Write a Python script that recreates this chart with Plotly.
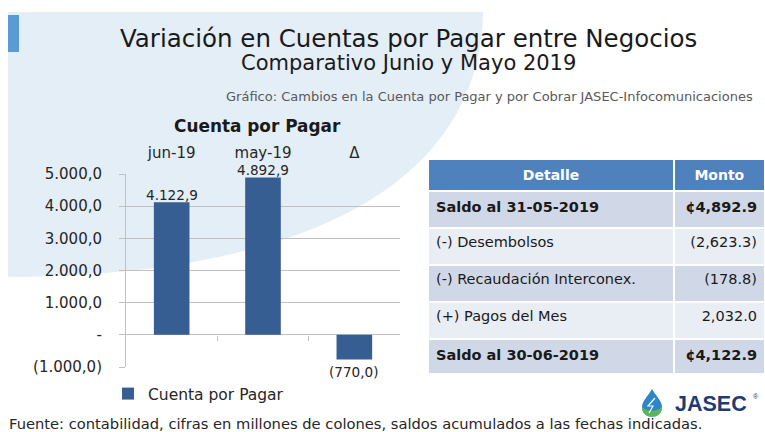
import plotly.graph_objects as go

W, H = 765, 432

# ---------------- data ----------------
categories = ["jun-19", "may-19", "Δ"]
values = [4122.9, 4892.9, -770.0]
value_labels = ["4.122,9", "4.892,9", "(770,0)"]
y_tickvals = [-1000, 0, 1000, 2000, 3000, 4000, 5000]
y_ticktext = ["(1.000,0)", "-", "1.000,0", "2.000,0", "3.000,0", "4.000,0", "5.000,0"]
series_name = "Cuenta por Pagar"

table_header = ["Detalle", "Monto"]
table_detalle = ["<b>Saldo al 31-05-2019</b>", "(-) Desembolsos", "(-) Recaudación Interconex.",
                 "(+) Pagos del Mes", "<b>Saldo al 30-06-2019</b>"]
table_monto = ["<b>¢4,892.9</b>", "(2,623.3)", "(178.8)", "2,032.0", "<b>¢4,122.9</b>"]

title = "Variación en Cuentas por Pagar entre Negocios"
subtitle = "Comparativo Junio y Mayo 2019"
caption = "Gráfico: Cambios en la Cuenta por Pagar y por Cobrar JASEC-Infocomunicaciones"
chart_title = "Cuenta por Pagar"
footer = "Fuente: contabilidad, cifras en millones de colones, saldos acumulados a las fechas indicadas."


def px(x, y):
    return x / W, 1 - y / H


def pth(points_cmds):
    out = []
    for cmd in points_cmds:
        if isinstance(cmd, str):
            out.append(cmd)
        else:
            x, y = px(*cmd)
            out.append(f"{x:.5f},{y:.5f}")
    return " ".join(out)


BAR = "#375E92"
GRID = "#C0C0C0"
CF = "DejaVu Sans"

fig = go.Figure()

fig.add_trace(go.Bar(
    x=categories, y=values, name=series_name,
    marker=dict(color=BAR, line=dict(width=0)),
    xaxis="x", yaxis="y", showlegend=True,
))
fig.add_trace(go.Scatter(x=[None], y=[None], xaxis="x2", yaxis="y",
                         showlegend=False, hoverinfo="skip"))

# data labels positioned through the data axes
for cat, val, lab in zip(categories, values, value_labels):
    fig.add_annotation(x=cat, y=val, xref="x", yref="y", text=lab, showarrow=False,
                       yanchor="bottom" if val >= 0 else "top",
                       yshift=-3 if val >= 0 else -2,
                       font=dict(family=CF, size=13.6, color="#262626"))

fig.add_trace(go.Table(
    domain=dict(x=[428 / W, 1.0], y=[1 - 373 / H, 1 - 159 / H]),
    columnwidth=[246, 91],
    header=dict(values=[f"<b>{h}</b>" for h in table_header],
                fill_color="#4F81BD", line=dict(color="white", width=2),
                align="center", height=24,
                font=dict(family=CF, size=14, color="white")),
    cells=dict(values=[table_detalle, table_monto],
               fill_color=[["#D0D8E8", "#E9EDF4", "#D0D8E8", "#E9EDF4", "#D0D8E8"]] * 2,
               line=dict(color="white", width=2),
               align=["left", "right"], height=37,
               font=dict(family=CF, size=14.5, color="#1a1a1a")),
))

x0d, x1d = 126 / W, 400 / W
y0d, y1d = 1 - 367 / H, 1 - 174 / H

fig.update_layout(
    width=W, height=H,
    margin=dict(l=0, r=0, t=0, b=0, autoexpand=False),
    paper_bgcolor="white", plot_bgcolor="rgba(0,0,0,0)",
    bargap=0.61,
    xaxis=dict(domain=[x0d, x1d], type="category", side="top", anchor="y",
               showline=False, showgrid=False, zeroline=False, ticks="",
               ticklabelstandoff=12, automargin=False,
               tickfont=dict(family=CF, size=15, color="#262626")),
    xaxis2=dict(domain=[x0d, x1d], overlaying="x", anchor="free",
                position=1 - 335 / H, range=[-0.5, 2.5], tickvals=[0.5, 1.5],
                ticks="outside", ticklen=5, tickcolor=GRID, showticklabels=False,
                showgrid=False, zeroline=False, showline=False, automargin=False),
    yaxis=dict(domain=[y0d, y1d], range=[-1000, 5000],
               tickvals=y_tickvals, ticktext=y_ticktext,
               showgrid=True, gridcolor=GRID, gridwidth=1,
               zeroline=True, zerolinecolor=GRID, zerolinewidth=1,
               showline=True, linecolor=GRID, linewidth=1,
               ticks="outside", ticklen=6, tickcolor=GRID,
               ticklabelstandoff=14, automargin=False,
               tickfont=dict(family=CF, size=15, color="#262626")),
    legend=dict(x=108 / W, y=1 - 377 / H, xanchor="left", yanchor="top",
                bgcolor="rgba(0,0,0,0)", font=dict(family=CF, size=15.5, color="#262626"),
                itemwidth=30),
    showlegend=True,
)

# background slide decoration
fig.add_shape(type="path", xref="paper", yref="paper", layer="below",
              path=pth(["M", (8, 12), "L", (483, 12), "C", (480, 170), (330, 275), (10, 277),
                        "L", (8, 277), "Z"]),
              fillcolor="#E4EEF7", line=dict(width=0))
fig.add_shape(type="rect", xref="paper", yref="paper", layer="below",
              x0=8 / W, x1=19 / W, y0=1 - 52 / H, y1=1 - 15 / H,
              fillcolor="#5B9BD5", line=dict(width=0))

# JASEC logo drop
fig.add_shape(type="path", xref="paper", yref="paper",
              path=pth(["M", (652, 389), "C", (648, 396), (642, 401), (642, 407),
                        "C", (642, 420), (662, 420), (662, 407),
                        "C", (662, 401), (656, 396), (652, 389), "Z"]),
              fillcolor="#2E86C8", line=dict(width=0))
fig.add_shape(type="path", xref="paper", yref="paper",
              path=pth(["M", (642, 407), "C", (642, 420), (662, 420), (662, 407),
                        "C", (656, 412), (648, 412), (642, 407), "Z"]),
              fillcolor="#5DB55A", line=dict(width=0))
fig.add_shape(type="path", xref="paper", yref="paper",
              path=pth(["M", (655, 398), "L", (648, 406), "L", (653, 406), "L", (649, 413)]),
              line=dict(color="white", width=1.2))

ann = [
    dict(text=title, x=408 / W, y=1 - 38 / H, font=dict(family=CF, size=24.5, color="#1a1a1a")),
    dict(text=subtitle, x=408 / W, y=1 - 63 / H, font=dict(family=CF, size=21, color="#1a1a1a")),
    dict(text=caption, x=755 / W, y=1 - 96 / H, xanchor="right",
         font=dict(family=CF, size=13, color="#595959")),
    dict(text=f"<b>{chart_title}</b>", x=257 / W, y=1 - 126 / H,
         font=dict(family=CF, size=16.9, color="#1a1a1a")),
    dict(text=footer, x=7 / W, y=1 - 423 / H, xanchor="left",
         font=dict(family=CF, size=14.7, color="#262626")),
    dict(text="<b>JASEC</b>", x=673 / W, y=1 - 404 / H, xanchor="left",
         font=dict(family="Liberation Sans", size=21.5, color="#1F3B73")),
    dict(text="®", x=751 / W, y=1 - 396 / H, xanchor="left",
         font=dict(family="Liberation Sans", size=7, color="#1F3B73")),
]
for a in ann:
    a.setdefault("xanchor", "center")
    a.update(xref="paper", yref="paper", yanchor="middle", showarrow=False)
    fig.add_annotation(**a)

fig.write_html("out.html", config={"displayModeBar": False},
               post_script="document.body.style.margin='0';document.body.style.overflow='hidden';")
